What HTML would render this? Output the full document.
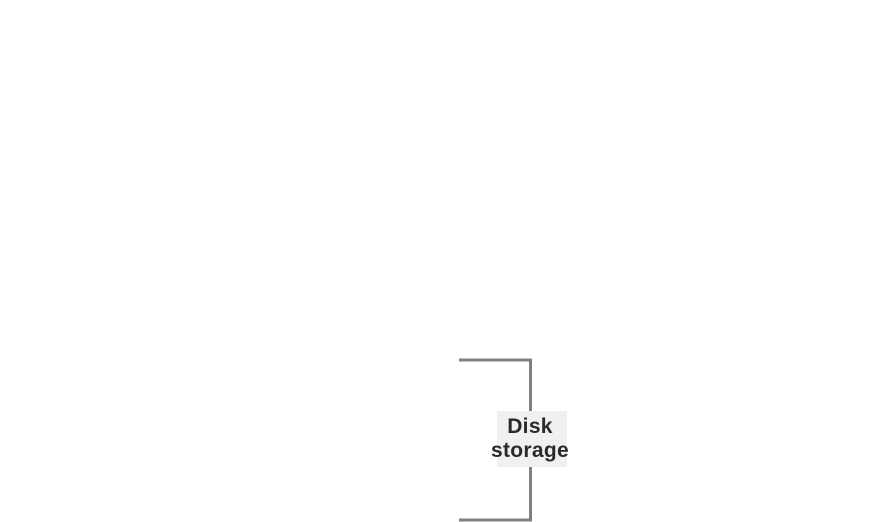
<!DOCTYPE html>
<html>
<head>
<meta charset="utf-8">
<style>
  html, body { margin: 0; padding: 0; background: #ffffff; }
  body { width: 892px; height: 522px; position: relative; overflow: hidden; }
  svg { position: absolute; left: 0; top: 0; }
  .label {
    position: absolute;
    left: 497px; top: 411px;
    width: 70px; height: 56px;
    background: #f0f0f0;
  }
  .text {
    position: absolute;
    left: 470px; top: 415px;
    width: 120px;
    text-align: center;
    font-family: "Liberation Sans", sans-serif;
    font-weight: bold;
    font-size: 21px;
    letter-spacing: 0.3px;
    line-height: 24px;
    color: #2a2a2e;
  }
</style>
</head>
<body>
<svg width="892" height="522" viewBox="0 0 892 522">
  <path d="M459 360 H530.5 V520 H459" fill="none" stroke="#808080" stroke-width="3" stroke-linejoin="miter"/>
</svg>
<div class="label"></div>
<div class="text">Disk<br>storage</div>
</body>
</html>
